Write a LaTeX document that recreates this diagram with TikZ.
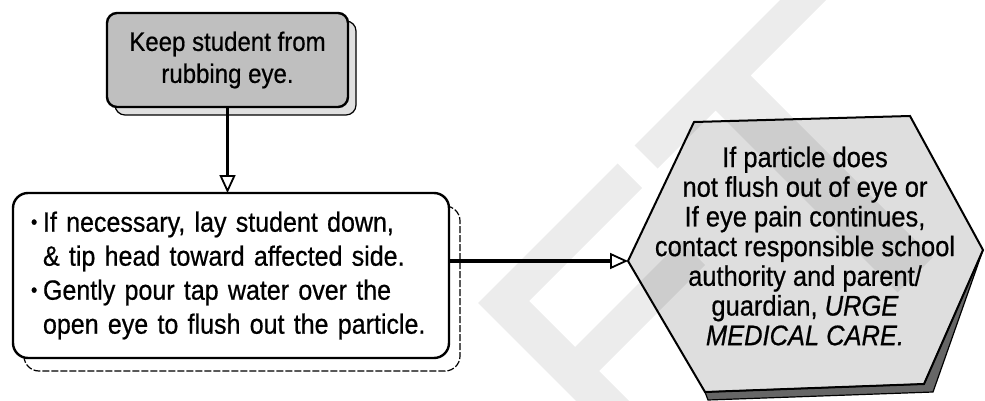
\documentclass[tikz,border=0pt]{standalone}
\usepackage{fontspec}
\setmainfont{Liberation Sans}[FakeStretch=0.9, FakeBold=0.6]
\usepackage{tikz}
\usetikzlibrary{arrows.meta,calc,positioning,backgrounds}
\newcommand{\smallbul}{\makebox[12pt][l]{\raisebox{.2ex}{\fontsize{20}{20}\selectfont\textbullet}}}
\tikzset{
	flow chart/.style={
		x=1pt, y=-1pt,
		node distance=86pt and 1pt,
		ar/.style={draw, line width=3.4pt,
			-{Triangle[open, length=18pt, width=16pt, line width=1.8pt]}},
		execute at begin picture={\useasboundingbox (0,0) rectangle (985,401);}
		},
	stepbox/.style={draw, line width=2.4pt, rounded corners=10pt, outer sep=0pt,
		fill=black!25, align=center, inner sep=0pt,
		minimum width=241pt, minimum height=94pt,
		font=\fontsize{26.7}{32}\selectfont},
	actionbox/.style={draw, line width=2.4pt, rounded corners=15pt, outer sep=0pt,
		fill=white, align=left, inner ysep=0pt, inner xsep=18pt, text width=400pt,
		minimum width=436pt, minimum height=165pt,
		font=\fontsize{27.8}{34}\selectfont},
	hextext/.style={align=center, inner sep=0pt, font=\fontsize{28.3}{29.7}\selectfont},
	hexline/.style={draw, line width=2pt, line join=miter, fill=black, fill opacity=.13},
	hexshadow/.style={draw, line width=1.2pt, fill=black!60},
	% shadows behind the boxes
	boxshadow/.style={draw, line width=1.2pt},
	wm/.style={fill=gray!15, draw=none}
}

\begin{document}
\begin{tikzpicture}[flow chart]
	\node[stepbox] (keep) at (227.5,60) {Keep student from\\rubbing eye.};
	\node[actionbox, below=of keep, xshift=3.5pt] (flush) {%
		\smallbul If necessary, lay student down,\\
		\hspace*{12pt}\& tip head toward affected side.\\
		\smallbul Gently pour tap water over the\\
		\hspace*{12pt}open eye to flush out the particle.};
	\coordinate (hexL) at (628,261);
	\coordinate (hexTL) at (694,122);
	\coordinate (hexTR) at (910,116);
	\coordinate (hexR) at (983,250);
	\coordinate (hexBR) at (924,384);
	\coordinate (hexBL) at (705,392);
	\draw[hexshadow] (hexR) -- (hexBR) -- (hexBL) -- ($(hexBL)+(3,8)$) -- ($(hexBR)+(9,8)$) -- cycle;
	\draw[hexline] (hexL) -- (hexTL) -- (hexTR) -- (hexR) -- (hexBR) -- (hexBL) -- cycle;
	\node[hextext] (urge) at (805,246) {If particle does\\not flush out of eye or\\If eye pain continues,\\contact responsible school\\authority and parent/\\guardian, \textit{URGE}\\\textit{MEDICAL CARE.}};
	\draw[ar] (keep.south) -- (keep.south |- flush.north);
	\draw[ar] (flush.east |- hexL) -- (hexL);
	\begin{pgfonlayer}{background}
		\begin{scope}
			\clip (0,0) rectangle (985,401);
			\fill[wm] (617.5,163.5) -- (478,303) -- (585,410) -- (638,410) -- (599,371) -- (705,265)
				-- (681,241) -- (575,347) -- (529,301) -- (642,188) -- cycle;
			\fill[wm] (634.5,145.5) -- (657.5,168.5) -- (715.5,110.5) -- (897.5,292.5) -- (932.5,257.5)
				-- (750.5,75.5) -- (836,-10) -- (790,-10) -- cycle;
		\end{scope}
		\draw[boxshadow, fill=black!12, rounded corners=10pt]
			([shift={(8,8)}]keep.north west) rectangle ([shift={(8,8)}]keep.south east);
		\draw[boxshadow, fill=white, rounded corners=15pt, dash pattern=on 7pt off 2pt]
			([shift={(11,13)}]flush.north west) rectangle ([shift={(11,13)}]flush.south east);
	\end{pgfonlayer}
\end{tikzpicture}
\end{document}
